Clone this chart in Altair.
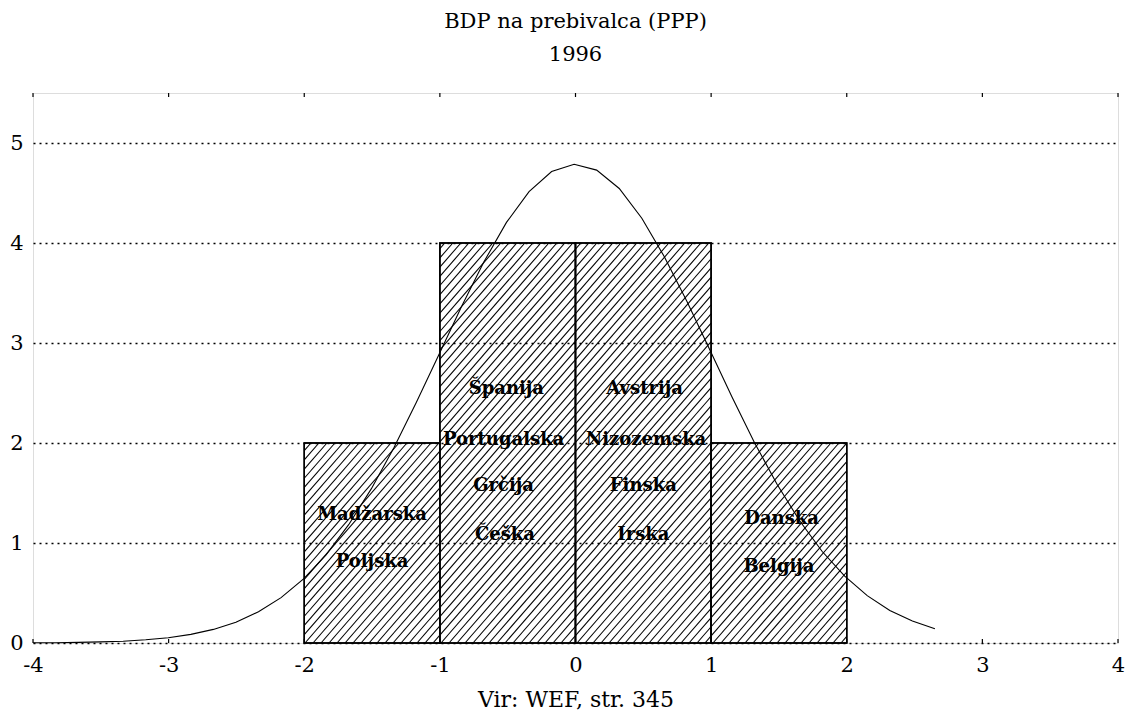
import altair as alt
import pandas as pd

# ---- data ----
BIN_LEFT = [-2, -1, 0, 1]
BIN_RIGHT = [-1, 0, 1, 2]
COUNTS = [2, 4, 4, 2]

LABEL_TEXT = ["Madžarska", "Poljska", "Španija", "Portugalska", "Grčija", "Češka",
              "Avstrija", "Nizozemska", "Finska", "Irska", "Danska", "Belgija"]
LABEL_X = [-1.5, -1.5, -0.51, -0.53, -0.53, -0.52, 0.51, 0.52, 0.5, 0.5, 1.52, 1.5]
LABEL_Y = [1.28, 0.81, 2.54, 2.03, 1.57, 1.08, 2.54, 2.03, 1.57, 1.08, 1.24, 0.76]

CURVE_X = [-4.0, -3.834, -3.6675, -3.5, -3.335, -3.169, -3.0025, -2.836, -2.67, -2.504,
           -2.3375, -2.171, -2.005, -1.839, -1.6725, -1.506, -1.34, -1.174, -1.0075, -0.841,
           -0.675, -0.509, -0.3425, -0.176, -0.01, 0.156, 0.3225, 0.489, 0.655, 0.821,
           0.9875, 1.154, 1.32, 1.486, 1.6525, 1.819, 1.985, 2.151, 2.3175, 2.484, 2.65]
CURVE_Y = [0.002, 0.003, 0.006, 0.011, 0.018, 0.032, 0.053, 0.086, 0.136, 0.208,
           0.312, 0.454, 0.642, 0.882, 1.183, 1.541, 1.951, 2.404, 2.882, 3.362,
           3.812, 4.206, 4.514, 4.714, 4.787, 4.729, 4.545, 4.248, 3.863, 3.418,
           2.940, 2.460, 2.003, 1.587, 1.222, 0.915, 0.668, 0.474, 0.326, 0.219, 0.143]

X_TICKS = [-4, -3, -2, -1, 0, 1, 2, 3, 4]
Y_TICKS = [0, 1, 2, 3, 4, 5]

TITLE_LINES = ["BDP na prebivalca (PPP)", "1996"]
SOURCE = "Vir: WEF, str. 345"

# ---- layout ----
W, H = 1085, 550
XMIN, XMAX = -4, 4
YMIN, YMAX = 0, 5.5
FONT = "DejaVu Serif"

bars = pd.DataFrame({"x1": BIN_LEFT, "x2": BIN_RIGHT, "n": COUNTS})
labels = pd.DataFrame({"x": LABEL_X, "y": LABEL_Y, "t": LABEL_TEXT})
curve = pd.DataFrame({"x": CURVE_X, "y": CURVE_Y})
ticks = pd.DataFrame({"x": X_TICKS})

# hatch segments derived from the bar rectangles (decoration only)
pxx = W / (XMAX - XMIN)
pxy = H / (YMAX - YMIN)
SPACING, SLOPE = 8.0, 1.15
rows = []
for xl, xr, h in zip(BIN_LEFT, BIN_RIGHT, COUNTS):
    xl_p, xr_p, h_p = (xl - XMIN) * pxx, (xr - XMIN) * pxx, h * pxy
    for k in range(-200, 400):
        c = k * SPACING
        y_lo = max(0.0, (xl_p - c) * SLOPE)
        y_hi = min(h_p, (xr_p - c) * SLOPE)
        if y_hi - y_lo > 0.5:
            rows.append({
                "hx1": XMIN + (c + y_lo / SLOPE) / pxx, "hy1": y_lo / pxy,
                "hx2": XMIN + (c + y_hi / SLOPE) / pxx, "hy2": y_hi / pxy,
            })
hatch = pd.DataFrame(rows)

xs = alt.Scale(domain=[XMIN, XMAX], nice=False, zero=False)
ys = alt.Scale(domain=[YMIN, YMAX], nice=False, zero=False)

x_axis = alt.Axis(values=X_TICKS, labelExpr="'' + datum.value", ticks=False, domain=False,
                  grid=False, labelFont=FONT, labelFontSize=21, labelPadding=11,
                  labelFlush=False, labelColor="black", title=SOURCE, titleFont=FONT,
                  titleFontSize=22, titleFontWeight="normal", titlePadding=14,
                  titleColor="black")
y_axis = alt.Axis(values=Y_TICKS, ticks=False, domain=False, grid=True, gridDash=[2, 4],
                  gridColor="black", gridOpacity=1, gridWidth=1.3, zindex=1,
                  labelFont=FONT, labelFontSize=21, labelPadding=10, labelColor="black",
                  title=None)

base_bar = alt.Chart(bars).mark_rect(fill="white", stroke="black", strokeWidth=1.5).encode(
    x=alt.X("x1:Q", scale=xs, axis=x_axis),
    x2="x2:Q",
    y=alt.Y("n:Q", scale=ys, axis=y_axis),
    y2=alt.datum(0),
)

hatch_layer = alt.Chart(hatch).mark_rule(color="black", strokeWidth=1.1).encode(
    x=alt.X("hx1:Q", scale=xs, axis=x_axis),
    x2="hx2:Q",
    y=alt.Y("hy1:Q", scale=ys, axis=y_axis),
    y2="hy2:Q",
)

outline = alt.Chart(bars).mark_rect(fillOpacity=0, stroke="black", strokeWidth=1.5).encode(
    x=alt.X("x1:Q", scale=xs, axis=x_axis),
    x2="x2:Q",
    y=alt.Y("n:Q", scale=ys, axis=y_axis),
    y2=alt.datum(0),
)

curve_layer = alt.Chart(curve).mark_line(color="black", strokeWidth=1.1).encode(
    x=alt.X("x:Q", scale=xs, axis=x_axis),
    y=alt.Y("y:Q", scale=ys, axis=y_axis),
)

text_layer = alt.Chart(labels).mark_text(font=FONT, fontSize=18, fontWeight="bold",
                                         color="black", align="center", baseline="middle").encode(
    x=alt.X("x:Q", scale=xs, axis=x_axis),
    y=alt.Y("y:Q", scale=ys, axis=y_axis),
    text="t:N",
)

top_ticks = alt.Chart(ticks).mark_rule(color="black", strokeWidth=1.2).encode(
    x=alt.X("x:Q", scale=xs, axis=x_axis),
    y=alt.value(0), y2=alt.value(4),
)
bottom_ticks = alt.Chart(ticks).mark_rule(color="black", strokeWidth=1.2).encode(
    x=alt.X("x:Q", scale=xs, axis=x_axis),
    y=alt.value(H - 4), y2=alt.value(H),
)

chart = alt.layer(base_bar, hatch_layer, outline, curve_layer, text_layer,
                  top_ticks, bottom_ticks).properties(
    width=W, height=H,
    title=alt.Title(TITLE_LINES, font=FONT, fontSize=21, fontWeight="normal",
                    color="black", lineHeight=33, offset=27, anchor="middle"),
    autosize=alt.AutoSizeParams(type="none"),
    padding={"left": 25, "top": 85, "right": 7, "bottom": 72},
).configure_view(stroke="#333", strokeWidth=1.6).configure(background="white")

chart.save("out.html", embed_options={"renderer": "svg", "actions": False})
